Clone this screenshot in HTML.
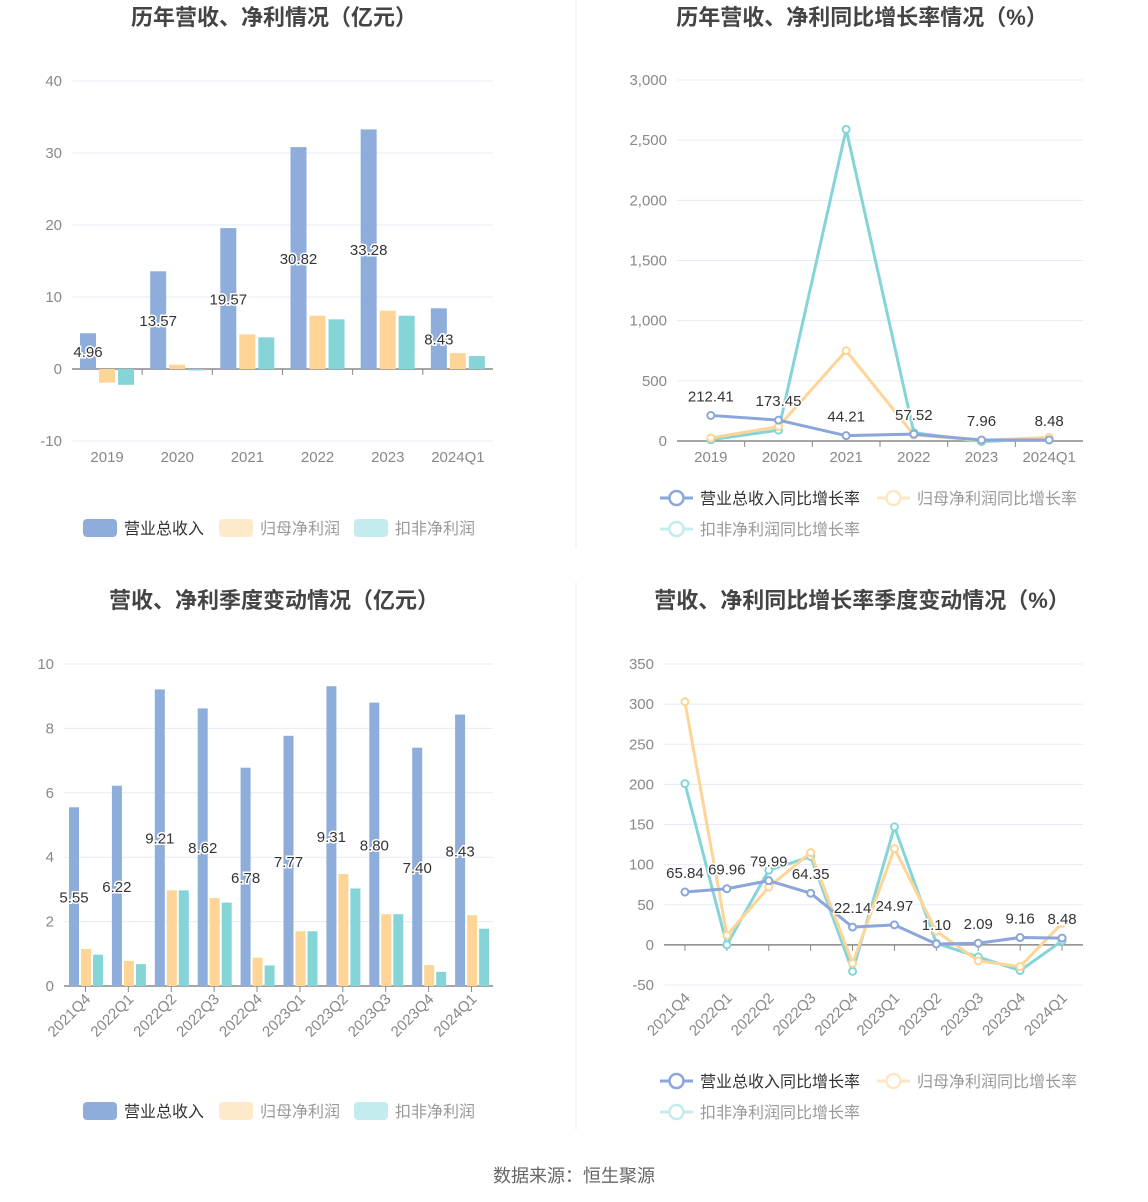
<!DOCTYPE html>
<html><head><meta charset="utf-8">
<style>
body{margin:0;background:#fff;}
svg{display:block;font-family:"Liberation Sans","Noto Sans CJK SC",sans-serif;}
</style></head>
<body>
<svg id="s" width="1148" height="1202" viewBox="0 0 1148 1202" xmlns="http://www.w3.org/2000/svg">
<line x1="576" y1="0" x2="576" y2="548" stroke="#eee"/>
<line x1="576" y1="582" x2="576" y2="1130" stroke="#eee"/>
<text x="274" y="25" text-anchor="middle" font-size="22" font-weight="bold" fill="#444">历年营收、净利情况（亿元）</text>
<text x="862" y="25" text-anchor="middle" font-size="22" font-weight="bold" fill="#444">历年营收、净利同比增长率情况（%）</text>
<text x="274" y="608" text-anchor="middle" font-size="22" font-weight="bold" fill="#444">营收、净利季度变动情况（亿元）</text>
<text x="862" y="608" text-anchor="middle" font-size="22" font-weight="bold" fill="#444">营收、净利同比增长率季度变动情况（%）</text>
<text x="574" y="1182" text-anchor="middle" font-size="18" fill="#666">数据来源：恒生聚源</text>
</svg>
<script>
// Chart 1 data
const yearCats=["2019","2020","2021","2022","2023","2024Q1"];
const yearRevenue=[4.96,13.57,19.57,30.82,33.28,8.43];
const yearNetProfit=[-1.9,0.6,4.8,7.4,8.1,2.2];
const yearDeductProfit=[-2.2,-0.2,4.4,6.9,7.4,1.8];
const yearTicks=[40,30,20,10,0,-10];
// Chart 2 data
const yearRevGrowth=[212.41,173.45,44.21,57.52,7.96,8.48];
const yearNetGrowth=[25,120,750,50,5,30];
const yearDedGrowth=[10,90,2590,70,-5,20];
const yearGrowthTicks=[3000,2500,2000,1500,1000,500,0];
// Chart 3 data
const qCats=["2021Q4","2022Q1","2022Q2","2022Q3","2022Q4","2023Q1","2023Q2","2023Q3","2023Q4","2024Q1"];
const qRevenue=[5.55,6.22,9.21,8.62,6.78,7.77,9.31,8.80,7.40,8.43];
const qNetProfit=[1.15,0.78,2.97,2.73,0.88,1.7,3.48,2.23,0.65,2.2];
const qDeductProfit=[0.97,0.68,2.97,2.59,0.64,1.7,3.03,2.23,0.44,1.78];
const qTicks=[10,8,6,4,2,0];
// Chart 4 data
const qRevGrowth=[65.84,69.96,79.99,64.35,22.14,24.97,1.10,2.09,9.16,8.48];
const qNetGrowth=[303,12,72,115,-23,120,17,-20,-27,27];
const qDedGrowth=[201,0,93,110,-33,147,2,-15,-32,5];
const qGrowthTicks=[350,300,250,200,150,100,50,0,-50];

const NS="http://www.w3.org/2000/svg";
const svg=document.getElementById('s');
function mk(tag,attrs,parent){const e=document.createElementNS(NS,tag);for(const k in attrs)e.setAttribute(k,attrs[k]);(parent||svg).appendChild(e);return e;}
const BLUE="#8eaddb",ORANGE="#fed597",TEAL="#85d5d8";
const fmt=v=>v.toLocaleString('en-US');

function axes(g,x0,x1,yScale,ticks,zero,cats,rotate,name){
  ticks.forEach(t=>{
    const y=yScale(t);
    if(t!==0){const l=mk('line',{x1:x0,x2:x1,y1:y,y2:y,stroke:'#e6ebf5'},g);
    
    }
    const tx=mk('text',{x:x0-10,y:y+5,'text-anchor':'end','font-size':15,fill:'#888'},g);
    tx.textContent=fmt(t);
    
    
  });
  const zl=mk('line',{x1:x0,x2:x1,y1:yScale(0),y2:yScale(0),stroke:'#888','stroke-width':1.5},g);
  
  
  const bw=(x1-x0)/cats.length;
  cats.forEach((c,i)=>{
    const tickX=rotate?x0+bw*(i+0.5):x0+bw*i;
    if(i>0||rotate){const tk=mk('line',{x1:tickX,x2:tickX,y1:yScale(0),y2:yScale(0)+6,stroke:'#888'},g);
    
    }
    const cx=x0+bw*(i+0.5);
    let t;
    if(rotate){const by=zero+14;
      t=mk('text',{x:cx+6,y:by,'text-anchor':'end','font-size':15,fill:'#888',transform:`rotate(-45 ${cx+6} ${by})`},g);}
    else t=mk('text',{x:cx,y:zero+21,'text-anchor':'middle','font-size':15,fill:'#888'},g);
    t.textContent=c;
    
    
  });
  return bw;
}
function label(g,x,y,txt,name){
  const t=mk('text',{x:x,y:y,'text-anchor':'middle','font-size':15,fill:'#333',stroke:'#fff','stroke-width':3,'paint-order':'stroke'},g);
  t.textContent=txt;
  
  
}
function barChart(name,x0,x1,yTop,vTop,yBot,vBot,ticks,cats,series,offs,w,rotate){
  const g=mk('g',{});
  
  
  const ys=v=>yTop+(vTop-v)*(yBot-yTop)/(vTop-vBot);
  const bw=axes(g,x0,x1,ys,ticks,ys(Math.min(0,vBot))>ys(0)?ys(vBot):ys(0),cats,rotate,name);
  const cols=[BLUE,ORANGE,TEAL];
  series.forEach((s,si)=>s.forEach((v,i)=>{
    const x=x0+bw*i+offs[si];
    const y=Math.min(ys(v),ys(0)),h=Math.abs(ys(v)-ys(0));
    const r=mk('rect',{x:x,y:y,width:w,height:h,fill:cols[si]},g);
    
    
  }));
  series[0].forEach((v,i)=>{
    const x=x0+bw*i+offs[0]+w/2;
    label(g,x,(ys(v)+ys(0))/2+6,v.toFixed(2),name+'-value-label');
  });
}
function lineChart(name,x0,x1,yTop,vTop,yBot,vBot,ticks,cats,series){
  const g=mk('g',{});
  
  
  const ys=v=>yTop+(vTop-v)*(yBot-yTop)/(vTop-vBot);
  const rotate=cats.length>6;
  const bw=axes(g,x0,x1,ys,ticks,ys(0)+(rotate?40:0),cats,rotate,name);
  const cols=["#8ba6da",ORANGE,TEAL];
  [2,1,0].forEach(si=>{
    const s=series[si];
    const pts=s.map((v,i)=>(x0+bw*(i+0.5))+','+ys(v)).join(' ');
    const pl=mk('polyline',{points:pts,fill:'none',stroke:cols[si],'stroke-width':3},g);
    
    
    s.forEach((v,i)=>{
      const c=mk('circle',{cx:x0+bw*(i+0.5),cy:ys(v),r:3.5,fill:'#fff',stroke:cols[si],'stroke-width':2},g);
      
      
    });
  });
  series[0].forEach((v,i)=>label(g,x0+bw*(i+0.5),ys(v)-14,v.toFixed(2),name+'-value-label'));
}
function barLegend(y,name){
  const items=[["营业总收入",BLUE,"#333"],["归母净利润","#feeacb","#999"],["扣非净利润","#c4ecee","#999"]];
  const xs=[83,219,354];
  items.forEach((it,i)=>{
    const g=mk('g',{});
    
    
    mk('rect',{x:xs[i],y:y-9,width:34,height:18,rx:4,fill:it[1]},g);
    const t=mk('text',{x:xs[i]+41,y:y+6,'font-size':16,fill:it[2]},g);t.textContent=it[0];
  });
}
function lineLegend(y,name){
  const items=[["营业总收入同比增长率","#8ba6da","#333",660,y],["归母净利润同比增长率","#fee7c2","#999",877,y],["扣非净利润同比增长率","#c4ecee","#999",660,y+31]];
  items.forEach((it,i)=>{
    const g=mk('g',{});
    
    
    mk('line',{x1:it[3],x2:it[3]+33,y1:it[4],y2:it[4],stroke:it[1],'stroke-width':3},g);
    mk('circle',{cx:it[3]+16.5,cy:it[4],r:7,fill:'#fff',stroke:it[1],'stroke-width':2.5},g);
    const t=mk('text',{x:it[3]+40,y:it[4]+6,'font-size':16,fill:it[2]},g);t.textContent=it[0];
  });
}
barChart('annual-bar-chart',72,493,81,40,441,-10,yearTicks,yearCats,[yearRevenue,yearNetProfit,yearDeductProfit],[8,27,46],16,false);
lineChart('annual-growth-chart',677,1083,80,3000,441,0,yearGrowthTicks,yearCats,[yearRevGrowth,yearNetGrowth,yearDedGrowth]);
barChart('quarterly-bar-chart',64,493,664,10,986,0,qTicks,qCats,[qRevenue,qNetProfit,qDeductProfit],[5,17,29],10,true);
lineChart('quarterly-growth-chart',664,1083,664,350,985,-50,qGrowthTicks,qCats,[qRevGrowth,qNetGrowth,qDedGrowth]);
barLegend(528,'annual-bar-legend');
barLegend(1111,'quarterly-bar-legend');
lineLegend(498,'annual-growth-legend');
lineLegend(1081,'quarterly-growth-legend');
</script>
</body></html>
